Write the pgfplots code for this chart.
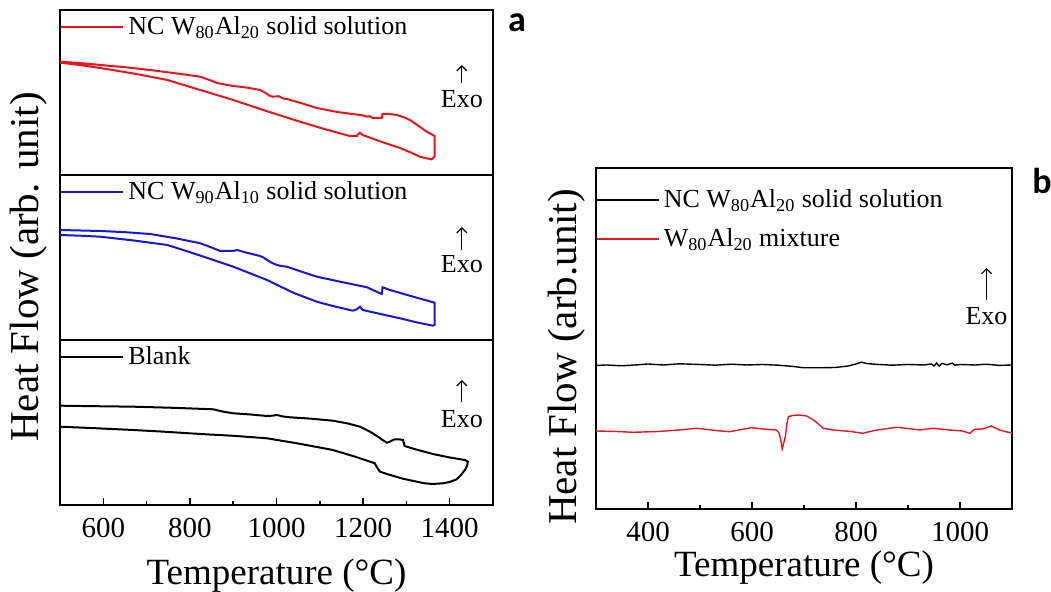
\documentclass[border=0pt]{standalone}
\usepackage{fontspec}
\setmainfont{Liberation Serif}
\setsansfont{Carlito}
\usepackage{pgfplots}
\pgfplotsset{compat=1.18}
\usetikzlibrary{arrows.meta}

\definecolor{cred}{RGB}{232,22,28}
\definecolor{cblue}{RGB}{22,22,215}

\tikzset{exo/.style={font=\rmfamily\fontsize{13}{15}\selectfont}}

\pgfplotsset{
  common/.style={
    scale only axis,
    ytick=\empty,
    axis line style={line width=0.75pt},
    tick align=inside, xtick pos=left,
    major tick length=3.5pt, minor tick length=2pt,
    every tick/.style={black, line width=0.75pt},
    /pgf/number format/assume math mode=true,
    /pgf/number format/1000 sep={},
    xticklabel style={font=\rmfamily\fontsize{14.5}{16}\selectfont, anchor=base, yshift=-16.5pt},
    legend cell align=left,
    legend image code/.code={\draw[##1] (0pt,0pt) -- (31pt,0pt);},
    clip=false,
  },
  panel/.style={
    common, width=216.5pt, height=82.5pt,
    xmin=500, xmax=1500, ymin=0, ymax=165,
    legend style={draw=none, fill=none, at={(axis description cs:0,0.897)}, anchor=west, inner sep=0pt,
      font=\rmfamily\fontsize{13}{15}\selectfont},
  },
}

\begin{document}
\begin{tikzpicture}
\path[use as bounding box] (0,0) rectangle (525.5pt,296pt);

% ---------- panel a, top (red)
\begin{axis}[panel, at={(30pt,208.5pt)}, anchor=south west, xtick=\empty, minor xtick={}]
\addplot[cred, line width=1pt] coordinates {
(500,113.3) (550,111.8) (593,110) (650,107.8) (708,105) (770,101.5) (824,98.3) (845,95) (863,92) (880,90.5) (900,89) (930,87.5) (962,85) (975,82) (985,79) (992,78.3) (1005,78.8) (1015,76.5) (1024,76) (1060,71.5) (1093,67) (1140,63) (1193,60) (1200,59.5) (1209,58.3) (1215,58.8) (1222,57) (1238,57) (1243,57) (1245,61) (1260,61) (1278,60) (1295,57.5) (1308,55) (1330,48.5) (1347,43.3) (1365,39) (1365,18.3) (1358,15.7) (1345,16.8) (1331,18.3) (1310,22.5) (1285,27) (1240,33.5) (1199,40) (1193,42.3) (1188,40.5) (1186,39) (1169,39) (1110,46) (1054,53.3) (980,63.5) (900,75) (820,85.5) (748,95) (670,101.5) (593,107) (545,110) (500,112.3)
};
\addlegendentry{NC W\textsubscript{80}Al\textsubscript{20} solid solution}
\draw[-{Straight Barb[length=2.5pt,width=5pt]}, line width=0.6pt] (axis cs:1428,92) -- (axis cs:1428,110);
\node[exo] at (axis cs:1428,76) {Exo};
\end{axis}

% ---------- panel a, middle (blue)
\begin{axis}[panel, at={(30pt,126pt)}, anchor=south west, xtick=\empty, minor xtick={}]
\addplot[cblue, line width=1pt] coordinates {
(500,110) (593,109) (650,107.8) (708,106) (770,101.5) (824,96.7) (850,92.5) (870,89) (890,89) (900,89) (909,90) (925,88) (962,84) (970,82.5) (978,80) (990,77) (1001,75) (1010,74) (1024,73.3) (1060,68) (1093,63.3) (1150,58) (1209,52.7) (1225,49.5) (1243,46) (1245,52.7) (1262,50) (1310,44) (1365,37.3) (1365,15) (1361,14.3) (1320,18) (1285,21.7) (1240,26) (1199,30) (1193,33.3) (1185,30.5) (1176,29.3) (1130,34) (1093,38.3) (1040,47) (978,60) (940,66.5) (900,73.3) (820,85) (748,95) (670,99.5) (593,103.3) (545,104.3) (500,105)
};
\addlegendentry{NC W\textsubscript{90}Al\textsubscript{10} solid solution}
\draw[-{Straight Barb[length=2.5pt,width=5pt]}, line width=0.6pt] (axis cs:1428,90) -- (axis cs:1428,113);
\node[exo] at (axis cs:1428,76) {Exo};
\end{axis}

% ---------- panel a, bottom (black)
\begin{axis}[panel, at={(30pt,43.5pt)}, anchor=south west,
  xtick={600,800,...,1400}, minor xtick={700,900,1100,1300},
  xlabel={Temperature (°C)},
  xlabel style={font=\rmfamily\fontsize{18.5}{20}\selectfont, at={(axis description cs:0.5,0)}, anchor=base, yshift=-40pt}]
\addplot[black, line width=1pt] coordinates {
(500,99.3) (580,98.8) (669,98.3) (760,97.2) (854,95.7) (875,93.5) (900,91.7) (940,90.5) (978,89) (990,89.3) (1001,90) (1015,88.5) (1031,87.7) (1080,86.3) (1130,84.3) (1165,81.5) (1193,78.3) (1215,73.5) (1232,69) (1245,65) (1255,62.3) (1260,63) (1266,64.3) (1273,65.7) (1285,65.5) (1292,65) (1296,59) (1320,55.8) (1361,51) (1400,47.5) (1435,45) (1442,43.3) (1440,39) (1435,35) (1425,29.5) (1416,25.7) (1400,23) (1384,21.7) (1361,21) (1340,21.8) (1324,23.3) (1290,26.5) (1255,31) (1239,33.3) (1233,37) (1227,41.7) (1216,43.3) (1180,48.5) (1130,55) (1050,61.5) (978,66.7) (900,69.2) (824,71) (740,73.3) (669,75) (580,76.8) (500,78.3)
};
\addlegendentry{Blank}
\draw[-{Straight Barb[length=2.5pt,width=5pt]}, line width=0.6pt] (axis cs:1428,103) -- (axis cs:1428,125);
\node[exo] at (axis cs:1428,86) {Exo};
\end{axis}

\node[font=\rmfamily\fontsize{20.5}{23}\selectfont, rotate=90] at (14.5pt,162.5pt) {Heat Flow (arb. unit)};
\node[font=\sffamily\bfseries\fontsize{18}{20}\selectfont] at (258.5pt,284.5pt) {a};

% ---------- panel b
\begin{axis}[common, width=208pt, height=170.5pt, at={(298pt,41.5pt)}, anchor=south west,
  xmin=300, xmax=1100, ymin=0, ymax=341,
  xtick={400,600,800,1000}, minor xtick={500,700,900},
  xlabel={Temperature (°C)},
  xlabel style={font=\rmfamily\fontsize{18.5}{20}\selectfont, at={(axis description cs:0.5,0)}, anchor=base, yshift=-33.8pt},
  legend style={draw=none, fill=none, at={(axis description cs:0,0.95)}, anchor=north west, inner sep=0pt,
    font=\rmfamily\fontsize{13}{15}\selectfont, row sep=5pt}]
\addplot[black, line width=0.7pt] coordinates {
(300,143.5) (320,144) (350,143.2) (380,144.2) (400,145) (430,144) (460,145.2) (500,144.5) (530,143.8) (560,144.8) (590,144) (620,144.5) (650,143.8) (680,142.5) (700,141.2) (730,141.2) (760,141.5) (785,143) (800,145) (810,146.8) (820,145.5) (840,144.6) (870,143.8) (900,144.5) (930,144) (945,145) (950,143) (955,146) (960,142.8) (965,145.6) (975,144.2) (985,145.8) (990,143.8) (1000,144.5) (1030,144) (1050,144.8) (1075,143.6) (1100,144)
};
\addlegendentry{NC W\textsubscript{80}Al\textsubscript{20} solid solution}
\addplot[cred, line width=0.7pt] coordinates {
(300,78) (340,77.5) (372,76.7) (420,77.5) (460,79) (494,80.7) (530,78.5) (557,77.3) (580,79.5) (599,81.3) (620,80) (647,79) (652,76) (655,70) (658,60) (661,66) (664,72) (667,85) (670,92.3) (678,93.5) (690,94) (705,93) (721,88) (737,80.7) (756,79) (790,77.5) (813,75.7) (835,78.5) (851,79.7) (878,81.7) (900,80.5) (923,79) (948,80.7) (980,79) (1005,78) (1019,75.7) (1028,79.7) (1044,80) (1060,83) (1076,79) (1090,77) (1100,76.3)
};
\addlegendentry{W\textsubscript{80}Al\textsubscript{20} mixture}
\draw[-{Straight Barb[length=2.5pt,width=5pt]}, line width=0.6pt] (axis cs:1051,209) -- (axis cs:1051,241);
\node[exo] at (axis cs:1051,193) {Exo};
\end{axis}

\node[font=\rmfamily\fontsize{20.5}{23}\selectfont, rotate=90] at (283.5pt,117.5pt) {Heat Flow (arb.unit)};
\node[font=\sffamily\bfseries\fontsize{18}{20}\selectfont] at (521pt,205.5pt) {b};
\end{tikzpicture}
\end{document}
